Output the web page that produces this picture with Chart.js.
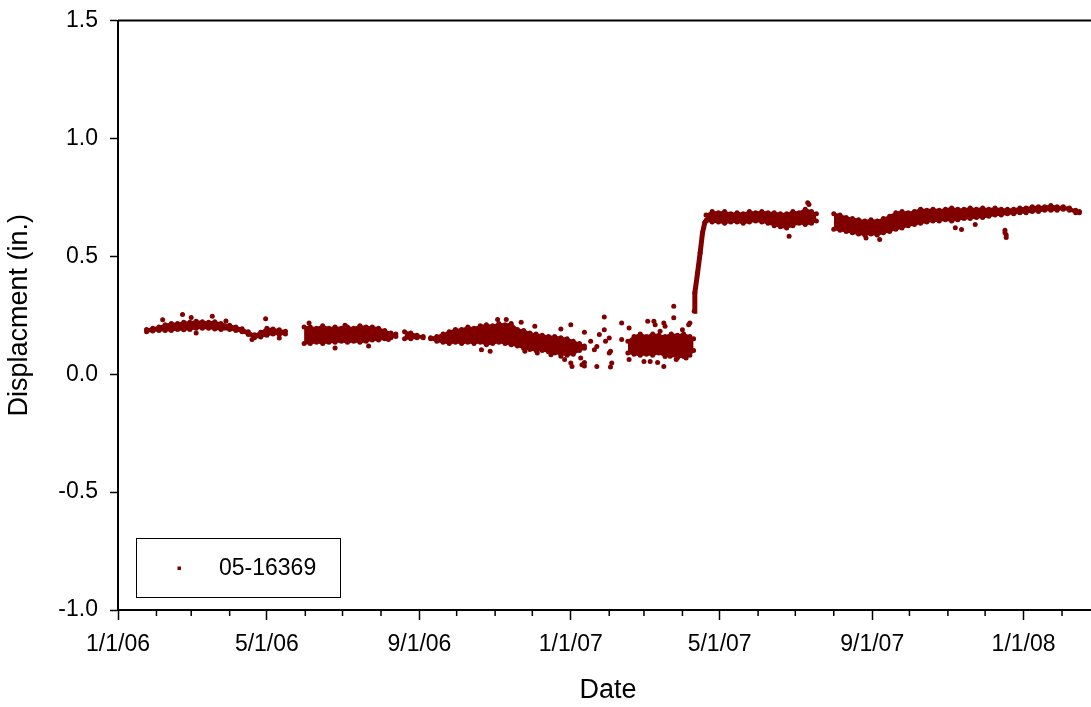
<!DOCTYPE html>
<html>
<head>
<meta charset="utf-8">
<title>05-16369 displacement</title>
<script src="https://cdn.jsdelivr.net/npm/chart.js@4.4.1/dist/chart.umd.min.js"></script>
<style>
    html, body { margin: 0; padding: 0; background: #fff; overflow: hidden; }
    #wrap { width: 1091px; height: 707px; overflow: hidden; }
</style>
</head>
<body>
<div id="wrap"><canvas id="chartDisp" width="1102" height="707"></canvas></div>
<script>
// x axis: labelled ticks and the monthly minor ticks (plot runs past the right edge of the picture)
var majorTicks = ['2006-01-01', '2006-05-01', '2006-09-01', '2007-01-01', '2007-05-01', '2007-09-01', '2008-01-01'];
var minorTicks = ['2006-02-01', '2006-03-01', '2006-04-01', '2006-06-01', '2006-07-01', '2006-08-01',
    '2006-10-01', '2006-11-01', '2006-12-01', '2007-02-01', '2007-03-01', '2007-04-01',
    '2007-06-01', '2007-07-01', '2007-08-01', '2007-10-01', '2007-11-01', '2007-12-01', '2008-02-01'];
var xStart = '2006-01-01';
var xEnd = '2008-03-01';
var yTicks = [-1.0, -0.5, 0.0, 0.5, 1.0, 1.5];
var seriesName = '05-16369';

// dense reading bands [date, low, high] (one block per recording period)
var bandJan06 = [
    ['2006-01-24', 0.18, 0.19], ['2006-01-29', 0.183, 0.195], ['2006-02-03', 0.185, 0.20],
    ['2006-02-08', 0.185, 0.21], ['2006-02-13', 0.185, 0.215], ['2006-02-18', 0.19, 0.215],
    ['2006-02-23', 0.188, 0.22], ['2006-02-28', 0.19, 0.22], ['2006-03-05', 0.195, 0.225],
    ['2006-03-10', 0.195, 0.222], ['2006-03-15', 0.195, 0.22], ['2006-03-20', 0.192, 0.222],
    ['2006-03-25', 0.19, 0.215], ['2006-04-01', 0.19, 0.208], ['2006-04-06', 0.185, 0.20],
    ['2006-04-11', 0.18, 0.193], ['2006-04-16', 0.168, 0.18], ['2006-04-21', 0.155, 0.167],
    ['2006-04-26', 0.158, 0.178], ['2006-05-01', 0.165, 0.195], ['2006-05-06', 0.17, 0.192],
    ['2006-05-11', 0.168, 0.188], ['2006-05-16', 0.17, 0.182]
];
var bandJun06 = [
    ['2006-05-31', 0.13, 0.20], ['2006-06-05', 0.13, 0.20], ['2006-06-10', 0.135, 0.195],
    ['2006-06-15', 0.13, 0.205], ['2006-06-20', 0.135, 0.195], ['2006-06-25', 0.135, 0.20],
    ['2006-06-30', 0.14, 0.195], ['2006-07-05', 0.135, 0.20], ['2006-07-10', 0.14, 0.195],
    ['2006-07-15', 0.135, 0.205], ['2006-07-20', 0.14, 0.20], ['2006-07-25', 0.145, 0.20],
    ['2006-07-30', 0.145, 0.195], ['2006-08-04', 0.15, 0.185], ['2006-08-09', 0.155, 0.175],
    ['2006-08-13', 0.16, 0.17]
];
var bandAug06 = [
    ['2006-08-20', 0.15, 0.18], ['2006-08-25', 0.15, 0.175], ['2006-08-30', 0.155, 0.165],
    ['2006-09-04', 0.155, 0.16]
];
var bandSep06 = [
    ['2006-09-10', 0.15, 0.155], ['2006-09-15', 0.14, 0.16], ['2006-09-20', 0.135, 0.17],
    ['2006-09-25', 0.13, 0.18], ['2006-09-30', 0.135, 0.19], ['2006-10-05', 0.13, 0.19],
    ['2006-10-10', 0.135, 0.20], ['2006-10-15', 0.13, 0.195], ['2006-10-20', 0.135, 0.205],
    ['2006-10-25', 0.125, 0.21], ['2006-10-30', 0.13, 0.205], ['2006-11-04', 0.135, 0.215],
    ['2006-11-09', 0.13, 0.21], ['2006-11-14', 0.125, 0.215], ['2006-11-19', 0.12, 0.19],
    ['2006-11-24', 0.11, 0.185], ['2006-11-29', 0.105, 0.175], ['2006-12-04', 0.10, 0.17],
    ['2006-12-09', 0.10, 0.165], ['2006-12-14', 0.095, 0.16], ['2006-12-19', 0.09, 0.16],
    ['2006-12-24', 0.085, 0.155], ['2006-12-29', 0.08, 0.15], ['2007-01-03', 0.085, 0.14],
    ['2007-01-08', 0.10, 0.13], ['2007-01-12', 0.11, 0.12]
];
var bandFeb07 = [
    ['2007-02-16', 0.09, 0.14], ['2007-02-21', 0.085, 0.16], ['2007-02-26', 0.08, 0.17],
    ['2007-03-03', 0.085, 0.16], ['2007-03-08', 0.08, 0.17], ['2007-03-13', 0.09, 0.165],
    ['2007-03-18', 0.075, 0.16], ['2007-03-23', 0.08, 0.17], ['2007-03-28', 0.07, 0.165],
    ['2007-04-02', 0.075, 0.17], ['2007-04-07', 0.08, 0.16], ['2007-04-10', 0.10, 0.15]
];
var bandApr07 = [
    ['2007-04-20', 0.65, 0.675], ['2007-04-25', 0.645, 0.69], ['2007-04-30', 0.645, 0.685],
    ['2007-05-05', 0.64, 0.69], ['2007-05-10', 0.645, 0.68], ['2007-05-15', 0.645, 0.685],
    ['2007-05-20', 0.64, 0.68], ['2007-05-25', 0.645, 0.69], ['2007-05-30', 0.65, 0.685],
    ['2007-06-04', 0.645, 0.69], ['2007-06-09', 0.64, 0.685], ['2007-06-14', 0.63, 0.685],
    ['2007-06-19', 0.625, 0.68], ['2007-06-24', 0.62, 0.68], ['2007-06-29', 0.63, 0.69],
    ['2007-07-04', 0.64, 0.685], ['2007-07-09', 0.635, 0.70], ['2007-07-14', 0.64, 0.69],
    ['2007-07-18', 0.65, 0.68]
];
var bandAug07 = [
    ['2007-08-01', 0.615, 0.68], ['2007-08-06', 0.61, 0.675], ['2007-08-11', 0.605, 0.665],
    ['2007-08-16', 0.60, 0.66], ['2007-08-21', 0.595, 0.655], ['2007-08-26', 0.59, 0.65],
    ['2007-08-31', 0.595, 0.655], ['2007-09-05', 0.59, 0.65], ['2007-09-10', 0.60, 0.66],
    ['2007-09-15', 0.605, 0.67], ['2007-09-20', 0.615, 0.685], ['2007-09-25', 0.62, 0.69],
    ['2007-09-30', 0.63, 0.685], ['2007-10-05', 0.635, 0.69], ['2007-10-10', 0.64, 0.70],
    ['2007-10-15', 0.645, 0.695], ['2007-10-20', 0.65, 0.70], ['2007-10-25', 0.65, 0.695],
    ['2007-10-30', 0.655, 0.70], ['2007-11-04', 0.65, 0.705], ['2007-11-09', 0.655, 0.70],
    ['2007-11-14', 0.66, 0.70], ['2007-11-19', 0.66, 0.705], ['2007-11-24', 0.665, 0.70],
    ['2007-11-29', 0.665, 0.705], ['2007-12-04', 0.67, 0.70], ['2007-12-09', 0.675, 0.705],
    ['2007-12-14', 0.675, 0.70], ['2007-12-19', 0.68, 0.70], ['2007-12-24', 0.68, 0.70],
    ['2007-12-29', 0.685, 0.705], ['2008-01-03', 0.685, 0.705], ['2008-01-08', 0.69, 0.71],
    ['2008-01-13', 0.69, 0.71], ['2008-01-18', 0.695, 0.71], ['2008-01-23', 0.695, 0.715],
    ['2008-01-28', 0.695, 0.71], ['2008-02-02', 0.70, 0.71], ['2008-02-07', 0.695, 0.705],
    ['2008-02-12', 0.685, 0.695], ['2008-02-15', 0.685, 0.69]
];

// the April 2007 jump
var riseReadings = [
    ['2007-04-10T12:00', 0.267], ['2007-04-11T00:00', 0.345],
    ['2007-04-13T05:00', 0.43], ['2007-04-15T07:00', 0.515], ['2007-04-17T05:00', 0.60],
    ['2007-04-19T00:00', 0.642], ['2007-04-20T12:00', 0.655]
];

// single readings outside the dense bands
var looseReadings = [
    ['2006-02-06', 0.231], ['2006-02-22', 0.253], ['2006-03-01', 0.24], ['2006-03-18', 0.246],
    ['2006-03-29', 0.226], ['2006-04-30', 0.235], ['2006-03-05', 0.175], ['2006-04-19', 0.147],
    ['2006-05-11', 0.153],
    ['2006-06-04', 0.217], ['2006-06-25', 0.111], ['2006-07-03', 0.208], ['2006-07-22', 0.12],
    ['2006-08-07', 0.147],
    ['2006-10-21', 0.104], ['2006-10-28', 0.097], ['2006-11-03', 0.232], ['2006-11-10', 0.232],
    ['2006-11-22', 0.22], ['2006-12-03', 0.203], ['2006-12-24', 0.192], ['2007-01-01', 0.21],
    ['2006-11-25', 0.097], ['2006-12-05', 0.09], ['2006-12-16', 0.083], ['2006-12-24', 0.076],
    ['2007-01-01', 0.048], ['2007-01-09', 0.069],
    ['2007-01-12', 0.178], ['2007-01-02', 0.033], ['2007-01-12', 0.05], ['2006-12-27', 0.062],
    ['2007-01-10', 0.04], ['2007-01-12', 0.035],
    ['2007-01-17', 0.14], ['2007-01-20', 0.104], ['2007-01-22', 0.118], ['2007-01-24', 0.168],
    ['2007-01-28', 0.243], ['2007-01-28', 0.189], ['2007-01-29', 0.14], ['2007-02-01', 0.154],
    ['2007-02-02', 0.097], ['2007-02-03', 0.048], ['2007-02-02', 0.031], ['2007-02-01', 0.09],
    ['2007-01-22', 0.033], ['2007-02-11', 0.217], ['2007-02-11', 0.147], ['2007-02-17', 0.196],
    ['2007-02-17', 0.062],
    ['2007-02-21', 0.09], ['2007-03-01', 0.054], ['2007-03-06', 0.054], ['2007-03-10', 0.21],
    ['2007-03-14', 0.182], ['2007-03-22', 0.076], ['2007-03-27', 0.062], ['2007-04-01', 0.189],
    ['2007-04-04', 0.069], ['2007-03-17', 0.217],
    ['2007-03-04', 0.225], ['2007-03-09', 0.225], ['2007-03-25', 0.288], ['2007-03-25', 0.239],
    ['2007-04-07', 0.217], ['2007-03-17', 0.033], ['2007-03-12', 0.05], ['2007-03-18', 0.203],
    ['2007-04-06', 0.21],
    ['2007-06-26', 0.585], ['2007-07-11', 0.727], ['2007-07-12', 0.72],
    ['2007-08-27', 0.578], ['2007-09-07', 0.571],
    ['2007-11-07', 0.621], ['2007-11-12', 0.614], ['2007-11-23', 0.635],
    ['2007-12-17', 0.61], ['2007-12-17', 0.60], ['2007-12-18', 0.59], ['2007-12-18', 0.58]
];

var bands = [bandJan06, bandJun06, bandAug06, bandSep06, bandFeb07, bandApr07, bandAug07];
var markColor = '#800000';
var fontFamily = '"Liberation Sans", Arial, sans-serif';

// 'YYYY-MM-DD' or 'YYYY-MM-DDTHH:mm' as UTC ms
function toMs(s) {
    return Date.parse(s.length > 10 ? s + ':00Z' : s + 'T00:00:00Z');
}

function toPoints(rows, col) {
    return rows.map(function (r) { return { x: toMs(r[0]), y: r[col] }; });
}

function shortDate(ms) {
    var d = new Date(ms);
    return (d.getUTCMonth() + 1) + '/' + d.getUTCDate() + '/' + String(d.getUTCFullYear()).slice(2);
}

var datasets = [];
bands.forEach(function (rows) {
    datasets.push({
        data: toPoints(rows, 1), borderColor: markColor, borderWidth: 2, tension: 0,
        pointRadius: 2.5, pointBorderWidth: 0, pointBackgroundColor: markColor, fill: false
    });
    datasets.push({
        data: toPoints(rows, 2), borderColor: markColor, borderWidth: 2, tension: 0,
        pointRadius: 2.5, pointBorderWidth: 0, pointBackgroundColor: markColor,
        fill: '-1', backgroundColor: markColor
    });
});
datasets.push({
    data: toPoints(riseReadings, 1), borderColor: markColor, borderWidth: 5, fill: false,
    pointRadius: 2.5, pointBorderWidth: 0, pointBackgroundColor: markColor
});
datasets.push({
    data: toPoints(looseReadings, 1), showLine: false, fill: false,
    pointRadius: 2.5, pointBorderWidth: 0, pointBackgroundColor: markColor
});

// minor ticks, top frame line and the boxed legend
var axisExtras = {
    id: 'axisExtras',
    afterDraw: function (chart) {
        var ctx = chart.ctx;
        var area = chart.chartArea;
        var xs = chart.scales.x;
        ctx.save();
        ctx.strokeStyle = '#000';
        ctx.lineWidth = 1.5;
        ctx.beginPath();
        minorTicks.forEach(function (m) {
            var px = xs.getPixelForValue(toMs(m));
            ctx.moveTo(px, area.bottom);
            ctx.lineTo(px, area.bottom + 6);
        });
        ctx.stroke();

        ctx.lineWidth = 2;
        ctx.beginPath();
        ctx.moveTo(area.left, area.top);
        ctx.lineTo(chart.width, area.top);
        ctx.stroke();

        // legend
        ctx.lineWidth = 1;
        ctx.strokeRect(136.5, 538.5, 204, 59);
        ctx.fillStyle = markColor;
        ctx.fillRect(177.5, 566.5, 3.5, 3.5);
        ctx.fillStyle = '#000';
        ctx.font = '23px ' + fontFamily;
        ctx.textBaseline = 'middle';
        ctx.textAlign = 'left';
        ctx.fillText(seriesName, 219, 569);
        ctx.restore();
    }
};

var chartDisp = new Chart(document.getElementById('chartDisp'), {
    type: 'line',
    data: { datasets: datasets },
    plugins: [axisExtras],
    options: {
        responsive: false,
        animation: false,
        devicePixelRatio: 1,
        layout: { padding: { top: 20.5, right: 0, bottom: 0, left: 0 } },
        plugins: {
            legend: { display: false },
            tooltip: { enabled: false }
        },
        scales: {
            x: {
                type: 'linear',
                min: toMs(xStart),
                max: toMs(xEnd),
                afterBuildTicks: function (scale) {
                    scale.ticks = majorTicks.map(function (s) { return { value: toMs(s) }; });
                },
                afterFit: function (scale) {
                    scale.height = 97;
                    scale.paddingLeft = 0;
                    scale.paddingRight = 0;
                },
                ticks: {
                    autoSkip: false,
                    maxRotation: 0,
                    padding: 11,
                    color: '#000',
                    font: { family: fontFamily, size: 23 },
                    callback: function (value) { return shortDate(value); }
                },
                grid: { drawOnChartArea: false, tickLength: 10, tickWidth: 1.5, tickColor: '#000' },
                border: { color: '#000', width: 2 },
                title: {
                    display: true, text: 'Date', color: '#000',
                    font: { family: fontFamily, size: 27 },
                    padding: { top: 0, bottom: 0 }
                }
            },
            y: {
                min: -1,
                max: 1.5,
                afterBuildTicks: function (scale) {
                    scale.ticks = yTicks.map(function (v) { return { value: v }; });
                },
                afterFit: function (scale) {
                    scale.width = 118;
                    scale.paddingTop = 0;
                    scale.paddingBottom = 0;
                },
                ticks: {
                    padding: 12,
                    color: '#000',
                    font: { family: fontFamily, size: 23 },
                    callback: function (value) { return Number(value).toFixed(1); }
                },
                grid: { drawOnChartArea: false, tickLength: 8, tickWidth: 1.5, tickColor: '#000' },
                border: { color: '#000', width: 2 },
                title: {
                    display: true, text: 'Displacment (in.)', color: '#000',
                    font: { family: fontFamily, size: 27 },
                    padding: { top: 3, bottom: 0 }
                }
            }
        }
    }
});
</script>
</body>
</html>
